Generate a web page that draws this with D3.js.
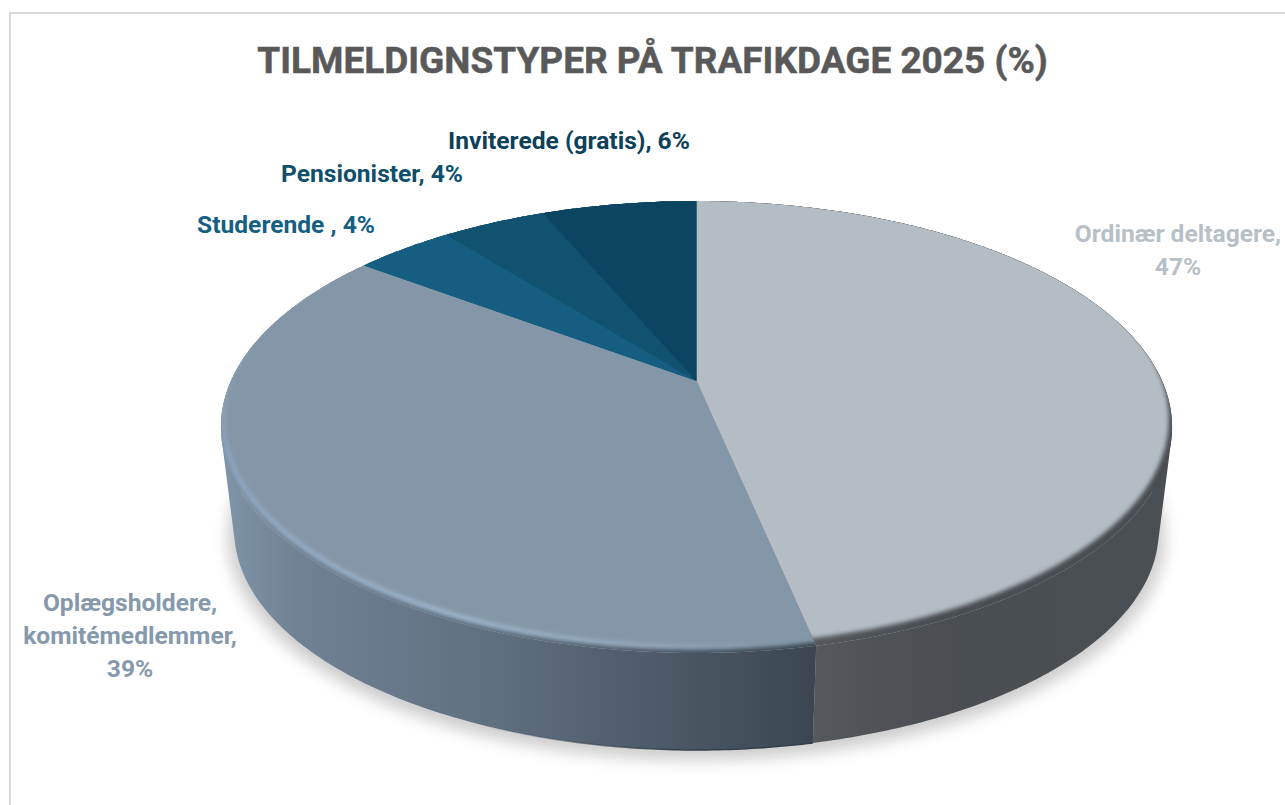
<!DOCTYPE html>
<html>
<head>
<meta charset="utf-8">
<title>Tilmeldingstyper</title>
<script src="https://cdn.jsdelivr.net/npm/d3@7"></script>
<style>
	html, body { margin: 0; padding: 0; background: #fff; }
	svg { display: block; }
	text { font-family: Roboto, "Noto Sans", sans-serif; font-weight: 700; text-anchor: middle; }
</style>
</head>
<body>
<svg id="chart" width="1285" height="805"></svg>
<script>
// data (slice sizes from the angles, labels round them)
var categories = ["Ordinær deltagere", "Oplægsholdere, komitémedlemmer", "Studerende ", "Pensionister", "Inviterede (gratis)"];
var shares = [46.7, 38.5, 4.1, 4.3, 6.4];
var chartTitle = "TILMELDIGNSTYPER PÅ TRAFIKDAGE 2025 (%)";

// look
var topColors = ["#b4bcc4", "#8497a8", "#155e82", "#105270", "#0c4561"];
var labelColors = ["#b7bfc7", "#8699ac", "#156082", "#0f4f6c", "#0d4059"];
var labelCenters = [[1178, 250], [130, 636], [286, 225], [372, 174], [569, 141]];
var labelWrapChars = [19, 19, 99, 99, 99];

var width = 1285, height = 805;
var svg = d3.select("#chart");
var defs = svg.append("defs");

//##################
//### projection ###
//##################
// the disc seen in perspective: apex is not the middle of the ellipse
var perspective = 0.2036;
var x = d3.scaleLinear().domain([-1, 1]).range([696.5 - 465.6, 696.5 + 465.6]);
var y = d3.scaleLinear().domain([-1, 1]).range([381 - 216.6, 381 + 216.6]);

var topFace = {sx: 1, sy: 1, dy: 0};
var bottomFace = {sx: 0.972, sy: 0.972, dy: 104.6};
var highlightFace = {sx: 0.997, sy: 1, dy: -3.5};
var flatFace = {sx: 0.993, sy: 1, dy: -8};

function project(angle, face){
	var w = 1 + perspective * Math.cos(angle);
	return [
		x(Math.sin(angle) / w * face.sx),
		y(-Math.cos(angle) / w * face.sy) + face.dy
	];
}

function arcPoints(a0, a1, face){
	var n = Math.max(2, Math.ceil((a1 - a0) / 0.01));
	return d3.range(n + 1).map(function(i){
		return project(a0 + (a1 - a0) * i / n, face);
	});
}

var line = d3.line();
var apex = [x(0), y(0)];

function slicePath(d, face){
	return line([apex].concat(arcPoints(d.startAngle, d.endAngle, face))) + "Z";
}
// one quad per step, all turned the same way, else the fold at the silhouette cancels out
function wallPath(d){
	var upper = arcPoints(d.startAngle, d.endAngle, topFace);
	var lower = arcPoints(d.startAngle, d.endAngle, bottomFace);
	return d3.range(upper.length - 1).map(function(i){
		var quad = [upper[i], upper[i + 1], lower[i + 1], lower[i]];
		if(d3.polygonArea(quad) < 0){
			quad.reverse();
		}
		return line(quad) + "Z";
	}).join("");
}
function wholeFace(face){
	return line(arcPoints(0, 2 * Math.PI, face)) + "Z";
}

var slices = d3.pie().sort(null).value(function(v){ return v; })(shares);

//############
//### defs ###
//############
function addGradient(id, stops){
	var g = defs.append("linearGradient")
		.attr("id", id)
		.attr("gradientUnits", "userSpaceOnUse")
		.attr("x1", 221).attr("x2", 1172).attr("y1", 0).attr("y2", 0);
	stops.forEach(function(s){
		g.append("stop")
			.attr("offset", (s[0] - 221) / 951)
			.attr("stop-color", s[1])
			.attr("stop-opacity", s.length > 2 ? s[2] : 1);
	});
}
addGradient("wall0", [[814, "#56595c"], [860, "#505458"], [960, "#4a4e52"], [1172, "#4a4f53"]]);
addGradient("wall1", [[221, "#8095a9"], [300, "#6f8192"], [400, "#67788a"], [500, "#5f6f7f"], [650, "#4e5b68"], [814, "#3b4652"]]);
addGradient("highlight1", [[221, "#8ea9c4"], [450, "#a3bbd2"], [650, "#97adc0"], [814, "#7f93a3"]]);
addGradient("foot1", [[470, "#333e49", 0], [680, "#333e49", 1], [814, "#333e49", 1]]);

function addBlur(id, dev){
	defs.append("filter")
		.attr("id", id)
		.attr("filterUnits", "userSpaceOnUse")
		.attr("x", 0).attr("y", 0).attr("width", width).attr("height", height)
		.append("feGaussianBlur").attr("stdDeviation", dev);
}
addBlur("blurShadow", 8);
addBlur("blurBevel", 2);

function addMask(id, face){
	defs.append("mask")
		.attr("id", id)
		.attr("maskUnits", "userSpaceOnUse")
		.attr("x", 0).attr("y", 0).attr("width", width).attr("height", height)
		.append("path")
			.attr("d", wholeFace(face))
			.attr("fill", "#fff")
			.attr("filter", "url(#blurBevel)");
}
addMask("maskFlat", flatFace);
addMask("maskHighlight", highlightFace);

//############
//### main ###
//############
// chart frame, only left and top are in the picture
svg.append("path")
	.attr("d", line([[10, height], [10, 13], [width, 13]]))
	.attr("fill", "none")
	.attr("stroke", "#d9d9d9")
	.attr("stroke-width", 2);

svg.append("text")
	.attr("x", 652.5)
	.attr("y", 73)
	.attr("font-size", 37)
	.attr("fill", "#595959")
	.attr("stroke", "#595959")
	.attr("stroke-width", 0.5)
	.text(chartTitle);

// soft shadow under the disc
svg.append("path")
	.attr("d", wholeFace({sx: 0.985, sy: 0.985, dy: 111}))
	.attr("fill", "#000")
	.attr("opacity", 0.2)
	.attr("filter", "url(#blurShadow)");

function wallFill(d, i){
	return i < 2 ? "url(#wall" + i + ")" : topColors[i];
}

svg.append("g").attr("class", "walls")
	.selectAll("path")
	.data(slices)
	.join("path")
		.attr("d", wallPath)
		.attr("fill", wallFill);

// dark line along the foot of the blue wall
svg.append("path")
	.attr("d", line(arcPoints(slices[1].startAngle, Math.PI * 1.2, bottomFace)))
	.attr("fill", "none")
	.attr("stroke", "url(#foot1)")
	.attr("stroke-width", 1.5);

// bevel: outer band has the wall colour, then the highlight, then the flat top
svg.append("g").attr("class", "bevel")
	.selectAll("path")
	.data(slices)
	.join("path")
		.attr("d", function(d){ return slicePath(d, topFace); })
		.attr("fill", wallFill);

svg.append("g").attr("class", "highlight")
	.attr("mask", "url(#maskHighlight)")
	.selectAll("path")
	.data(slices)
	.join("path")
		.attr("d", function(d){ return slicePath(d, topFace); })
		.attr("fill", function(d, i){ return i == 1 ? "url(#highlight1)" : wallFill(d, i); });

svg.append("g").attr("class", "flat")
	.attr("mask", "url(#maskFlat)")
	.selectAll("path")
	.data(slices)
	.join("path")
		.attr("d", function(d){ return slicePath(d, topFace); })
		.attr("fill", function(d, i){ return topColors[i]; });

// labels
var percent = d3.format(".0f");

function wrapLabel(str, maxChars){
	var lines = [""];
	str.split(" ").forEach(function(word){
		var last = lines[lines.length - 1];
		if(last != "" && (last + " " + word).length > maxChars){
			lines.push(word);
		}else{
			lines[lines.length - 1] = last == "" ? word : last + " " + word;
		}
	});
	return lines;
}

var labelLineHeight = 33;

svg.append("g").attr("class", "labels")
	.selectAll("text")
	.data(slices)
	.join("text")
		.attr("font-size", 24.6)
		.attr("fill", function(d, i){ return labelColors[i]; })
		.each(function(d, i){
			var lines = wrapLabel(categories[i] + ", " + percent(d.value) + "%", labelWrapChars[i]);
			var top = labelCenters[i][1] - (lines.length - 1) * labelLineHeight / 2 + 8;
			d3.select(this).selectAll("tspan")
				.data(lines)
				.join("tspan")
					.attr("x", labelCenters[i][0])
					.attr("y", function(l, j){ return top + j * labelLineHeight; })
					.text(function(l){ return l; });
		});
</script>
</body>
</html>
